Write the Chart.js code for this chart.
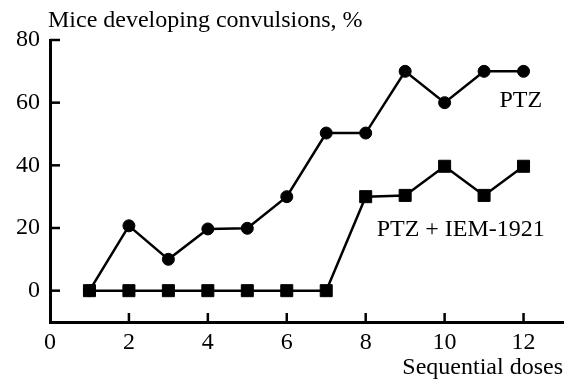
<!DOCTYPE html>
<html><head><meta charset="utf-8">
<script src="https://cdn.jsdelivr.net/npm/chart.js@4/dist/chart.umd.min.js"></script>
<style>html,body{margin:0;padding:0;background:#fff;}</style>
</head><body>
<canvas id="c" width="573" height="385" style="display:block;width:573px;height:385px"></canvas>
<script>
const doses = [1,2,3,4,5,6,7,8,9,10,11,12];
const ptz = [0,20.7,10,19.7,19.9,30,50.3,50.3,70,60,70,70];
const ptzIem = [0,0,0,0,0,0,0,30,30.4,39.7,30.4,39.7];
const xTicks = [0,2,4,6,8,10,12];
const yTicks = [0,20,40,60,80];
const yTitle = 'Mice developing convulsions, %';
const xTitle = 'Sequential doses';
const seriesNames = ['PTZ','PTZ + IEM-1921'];

const FONT = '"Liberation Serif", "Times New Roman", serif';

const decor = {
  id: 'decor',
  afterDraw(chart) {
    const {ctx, chartArea: a, scales: {x, y}} = chart;
    ctx.save();
    ctx.strokeStyle = '#000';
    ctx.lineWidth = 2.5;
    yTicks.forEach(v => {
      const py = y.getPixelForValue(v);
      ctx.beginPath(); ctx.moveTo(a.left, py); ctx.lineTo(a.left + 10, py); ctx.stroke();
    });
    xTicks.forEach(v => {
      if (v === 0) return;
      const px = x.getPixelForValue(v);
      ctx.beginPath(); ctx.moveTo(px, a.bottom); ctx.lineTo(px, a.bottom - 9); ctx.stroke();
    });
    ctx.fillStyle = '#000';
    ctx.font = '24px ' + FONT;
    ctx.textBaseline = 'alphabetic';
    ctx.textAlign = 'left';
    ctx.fillText(yTitle, a.left - 2, 27);
    ctx.textAlign = 'right';
    ctx.fillText(seriesNames[0], x.getPixelForValue(12.47), y.getPixelForValue(58.6));
    ctx.fillText(seriesNames[1], x.getPixelForValue(12.54), y.getPixelForValue(17.6));
    ctx.restore();
  }
};

new Chart(document.getElementById('c'), {
  type: 'line',
  data: {
    datasets: [
      {
        label: seriesNames[0],
        data: doses.map((d, i) => ({x: d, y: ptz[i]})),
        borderColor: '#000', backgroundColor: '#000', borderWidth: 2.5,
        pointStyle: 'circle', pointRadius: 6, pointBorderWidth: 1,
        pointBackgroundColor: '#000', pointBorderColor: '#000',
        tension: 0, order: 1
      },
      {
        label: seriesNames[1],
        data: doses.map((d, i) => ({x: d, y: ptzIem[i]})),
        borderColor: '#000', backgroundColor: '#000', borderWidth: 2.5,
        pointStyle: 'rect', pointRadius: 8.5, pointBorderWidth: 1,
        pointBackgroundColor: '#000', pointBorderColor: '#000',
        tension: 0, order: 0
      }
    ]
  },
  options: {
    responsive: false,
    animation: false,
    devicePixelRatio: 1,
    layout: {padding: {top: 40, right: 10, left: 0, bottom: 0}},
    plugins: {legend: {display: false}, tooltip: {enabled: false}, title: {display: false}},
    scales: {
      x: {
        type: 'linear', min: 0, max: 13,
        grid: {display: false, drawTicks: false},
        border: {display: true, color: '#000', width: 3},
        afterBuildTicks: s => { s.ticks = xTicks.map(v => ({value: v})); },
        afterFit: s => { s.height = 63; },
        ticks: {color: '#000', padding: 6, font: {family: FONT, size: 24}, maxRotation: 0, autoSkip: false},
        title: {display: true, text: xTitle, align: 'end', color: '#000', font: {family: FONT, size: 24}, padding: {top: 0, bottom: 3}}
      },
      y: {
        type: 'linear', min: -10, max: 80,
        grid: {display: false, drawTicks: false},
        border: {display: true, color: '#000', width: 3},
        afterBuildTicks: s => { s.ticks = yTicks.map(v => ({value: v})); },
        afterFit: s => { s.width = 50; },
        ticks: {color: '#000', padding: 10, font: {family: FONT, size: 24}}
      }
    }
  },
  plugins: [decor]
});
</script>
</body></html>
